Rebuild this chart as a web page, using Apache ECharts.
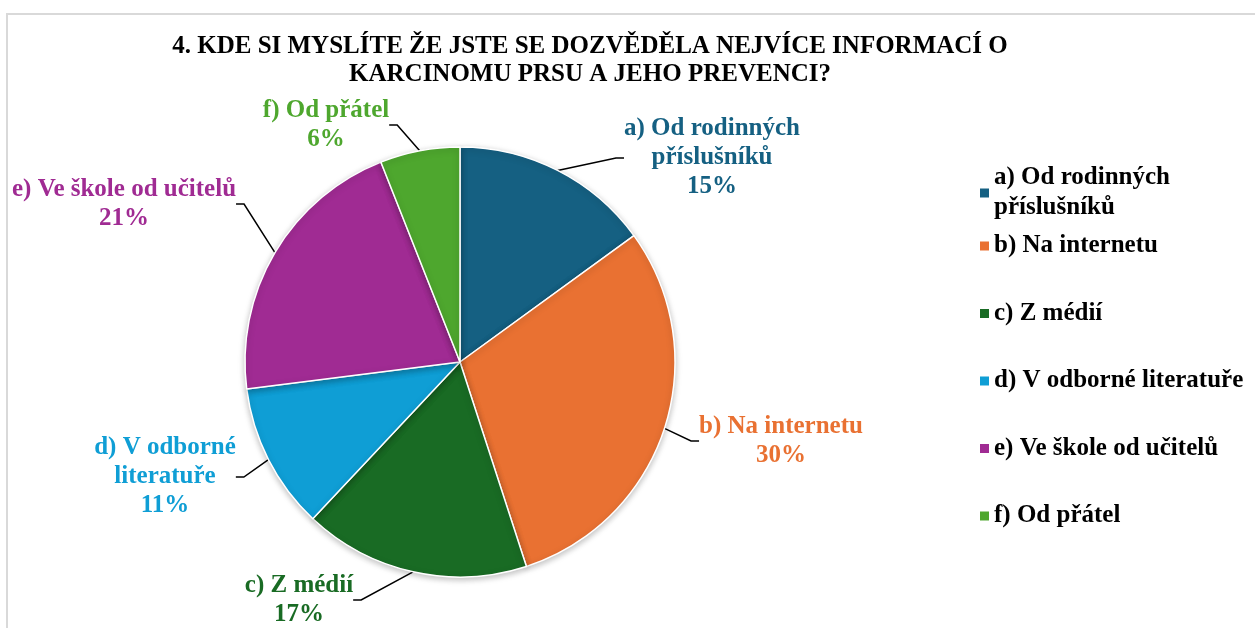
<!DOCTYPE html>
<html>
<head>
<meta charset="utf-8">
<script src="https://cdn.jsdelivr.net/npm/echarts@6/dist/echarts.min.js"></script>
<style>
  html, body { margin: 0; padding: 0; background: #fff; }
  #wrap { position: relative; width: 1255px; height: 628px; overflow: hidden; }
  #frame { position: absolute; left: 6px; top: 13px; right: -10px; bottom: -10px;
           border-left: 2px solid #d9d9d9; border-top: 2px solid #d9d9d9; }
  #mainChart { position: absolute; left: 0; top: 0; width: 1255px; height: 628px; }
</style>
</head>
<body>
<div id="wrap">
  <div id="frame"></div>
  <div id="mainChart"></div>
</div>
<script>
// data
const categories = [
    'a) Od rodinných příslušníků',
    'b) Na internetu',
    'c) Z médií',
    'd) V odborné literatuře',
    'e) Ve škole od učitelů',
    'f) Od přátel'
];
const labelText = [
    'a) Od rodinných\npříslušníků',
    'b) Na internetu',
    'c) Z médií',
    'd) V odborné\nliteratuře',
    'e) Ve škole od učitelů',
    'f) Od přátel'
];
const values = [15, 30, 17, 11, 21, 6];
const colors = ['#156082', '#e97132', '#196b24', '#0f9ed5', '#a02b93', '#4ea72e'];

const FONT = '"Liberation Serif", "Times New Roman", serif';

// where each data label's text block sits (centre), like in the picture
const labelSpots = [
    [712, 158], [781, 441], [299, 600], [165, 477], [124, 204], [326, 125]
];

const chart = echarts.init(document.getElementById('mainChart'), null, { renderer: 'canvas' });

const pieData = categories.map((name, i) => ({
    name,
    value: values[i],
    itemStyle: { color: colors[i] },
    label: { color: colors[i] }
}));

const legendText = {
    fontFamily: FONT, fontWeight: 'bold', fontSize: 25, color: '#000', lineHeight: 30
};
const legendBase = {
    orient: 'vertical', left: 975,
    icon: 'rect', itemWidth: 9, itemHeight: 9,
    selectedMode: false,
    itemStyle: { borderWidth: 0, shadowBlur: 0 },
    textStyle: legendText
};

const option = {
    backgroundColor: 'transparent',
    title: {
        text: '4. KDE SI MYSLÍTE ŽE JSTE SE DOZVĚDĚLA NEJVÍCE INFORMACÍ O\nKARCINOMU PRSU A JEHO PREVENCI?',
        left: 585, top: 28, textAlign: 'center',
        textStyle: { fontFamily: FONT, fontWeight: 'bold', fontSize: 25, lineHeight: 28, color: '#000' }
    },
    legend: [
        Object.assign({}, legendBase, {
            top: 158, itemGap: 0,
            data: [categories[0]],
            formatter: () => labelText[0]
        }),
        Object.assign({}, legendBase, {
            top: 226, itemGap: 37.5,
            data: categories.slice(1)
        })
    ],
    series: [{
        type: 'pie',
        center: [460, 362],
        radius: 215,
        startAngle: 90,
        clockwise: true,
        avoidLabelOverlap: false,
        itemStyle: {
            borderColor: '#fff', borderWidth: 1.5,
            shadowBlur: 6, shadowColor: 'rgba(0,0,0,0.25)', shadowOffsetY: 2
        },
        label: {
            show: true, position: 'outside',
            formatter: (p) => labelText[p.dataIndex] + '\n' + p.value + '%',
            fontFamily: FONT, fontWeight: 'bold', fontSize: 25, lineHeight: 29,
            align: 'center'
        },
        labelLine: {
            show: true, length: 30, length2: 8, smooth: false,
            lineStyle: { color: '#000', width: 1.5 }
        },
        labelLayout: (p) => ({
            x: labelSpots[p.dataIndex][0],
            y: labelSpots[p.dataIndex][1],
            align: 'center',
            verticalAlign: 'middle'
        }),
        emphasis: { disabled: true },
        data: pieData
    }]
};

chart.setOption(option);
window.addEventListener('resize', () => chart.resize());
</script>
</body>
</html>
